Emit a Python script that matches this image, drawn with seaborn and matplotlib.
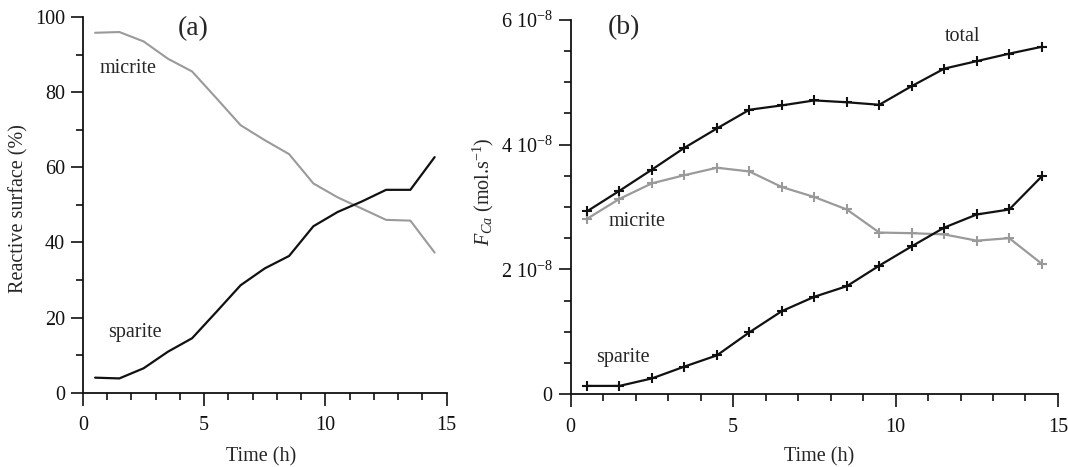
import numpy as np
import pandas as pd
import matplotlib
matplotlib.use("Agg")
import matplotlib.pyplot as plt
import seaborn as sns
from matplotlib.ticker import MultipleLocator, FixedLocator, FixedFormatter

# ---------------- data ----------------
time_h = [0.5, 1.5, 2.5, 3.5, 4.5, 5.5, 6.5, 7.5, 8.5, 9.5, 10.5, 11.5, 12.5, 13.5, 14.5]

# panel (a) reactive surface (%)
surf_micrite = [95.8, 96.0, 93.5, 88.9, 85.5, 78.4, 71.2, 67.2, 63.5, 55.7, 52.0, 49.0, 46.0, 45.8, 37.3]
surf_sparite = [4.0, 3.8, 6.5, 10.9, 14.5, 21.5, 28.6, 33.1, 36.4, 44.3, 48.1, 50.9, 54.0, 54.0, 62.7]

# panel (b) F_Ca (mol.s-1), in units of 1e-8
flux_total = [2.93, 3.26, 3.60, 3.95, 4.26, 4.56, 4.63, 4.71, 4.68, 4.64, 4.94, 5.22, 5.34, 5.46, 5.57]
flux_micrite = [2.81, 3.13, 3.38, 3.51, 3.63, 3.57, 3.32, 3.16, 2.96, 2.59, 2.58, 2.56, 2.46, 2.50, 2.09]
flux_sparite = [0.13, 0.13, 0.25, 0.44, 0.62, 0.99, 1.33, 1.56, 1.73, 2.06, 2.37, 2.67, 2.88, 2.96, 3.49]
flux_scale = 1e-8

a_ticks = [0, 20, 40, 60, 80, 100]
b_ticks = [0, 2e-8, 4e-8, 6e-8]
b_ticklabels = ["0", r"2 10$^{-8}$", r"4 10$^{-8}$", r"6 10$^{-8}$"]
x_ticks = [0, 5, 10, 15]

GRAY = "#9a9a9a"
BLACK = "#111111"

# ---------------- style ----------------
sns.set_theme(style="ticks")
plt.rcParams["font.family"] = ["Liberation Serif", "DejaVu Serif"]
plt.rcParams["mathtext.fontset"] = "custom"
plt.rcParams["mathtext.rm"] = "Liberation Serif"
plt.rcParams["mathtext.it"] = "Liberation Serif:italic"
plt.rcParams["mathtext.bf"] = "Liberation Serif:bold"
plt.rcParams["axes.unicode_minus"] = False

FS = 14.5

fig = plt.figure(figsize=(10.68, 4.67), dpi=100)
axA = fig.add_axes([0.0777, 0.1591, 0.4183 - 0.0777, 0.9636 - 0.1591])
axB = fig.add_axes([0.5344, 0.1563, 0.9906 - 0.5344, 0.9572 - 0.1563])

# ---------------- panel (a) ----------------
dfA = pd.DataFrame({"t": time_h, "micrite": surf_micrite, "sparite": surf_sparite})
sns.lineplot(data=dfA, x="t", y="micrite", ax=axA, color=GRAY, lw=1.5)
sns.lineplot(data=dfA, x="t", y="sparite", ax=axA, color=BLACK, lw=1.6)
axA.set_xlim(0, 15)
axA.set_ylim(0, 100)
axA.yaxis.set_major_locator(FixedLocator(a_ticks))
axA.yaxis.set_minor_locator(MultipleLocator(10))
axA.text(4.54, 97.0, "(a)", fontsize=20, ha="center", va="center")
axA.text(1.86, 86.2, "micrite", fontsize=FS, ha="center", va="center")
axA.text(2.14, 16.1, "sparite", fontsize=FS, ha="center", va="center")
axA.set_ylabel("Reactive surface (%)", fontsize=FS)
axA.yaxis.set_label_coords(-0.151, 0.49)

# ---------------- panel (b) ----------------
dfB = pd.DataFrame({
    "t": time_h,
    "total": np.array(flux_total) * flux_scale,
    "micrite": np.array(flux_micrite) * flux_scale,
    "sparite": np.array(flux_sparite) * flux_scale,
})
mk = dict(marker="+", markersize=6.5, markeredgewidth=1.5)
sns.lineplot(data=dfB, x="t", y="micrite", ax=axB, color=GRAY, lw=1.6, markeredgecolor=GRAY, **mk)
sns.lineplot(data=dfB, x="t", y="total", ax=axB, color=BLACK, lw=1.6, markeredgecolor=BLACK, **mk)
sns.lineplot(data=dfB, x="t", y="sparite", ax=axB, color=BLACK, lw=1.6, markeredgecolor=BLACK, **mk)
axB.set_xlim(0, 15)
axB.set_ylim(0, 6e-8)
axB.yaxis.set_major_locator(FixedLocator(b_ticks))
axB.yaxis.set_major_formatter(FixedFormatter(b_ticklabels))
axB.yaxis.set_minor_locator(MultipleLocator(0.5e-8))
axB.text(1.64, 5.88e-8, "(b)", fontsize=20, ha="center", va="center")
axB.text(12.07, 5.74e-8, "total", fontsize=FS, ha="center", va="center")
axB.text(2.04, 2.76e-8, "micrite", fontsize=FS, ha="center", va="center")
axB.text(1.61, 0.58e-8, "sparite", fontsize=FS, ha="center", va="center")
axB.set_ylabel(r"$F_{Ca}$ (mol.s$^{-1}$)", fontsize=FS)
axB.yaxis.set_label_coords(-0.153, 0.54)

# ---------------- common axes styling ----------------
for ax, xl, yl in ((axA, 0.49, -0.1445), (axB, 0.51, -0.142)):
    ax.xaxis.set_major_locator(FixedLocator(x_ticks))
    ax.xaxis.set_minor_locator(MultipleLocator(1))
    ax.set_xlabel("Time (h)", fontsize=FS)
    ax.xaxis.set_label_coords(xl, yl)
    sns.despine(ax=ax)
    for s in ("left", "bottom"):
        ax.spines[s].set_linewidth(1.3)
        ax.spines[s].set_color(BLACK)
    ax.tick_params(which="major", direction="out", length=9, width=1.2, color=BLACK,
                   labelsize=FS, pad=4, labelcolor=BLACK)
    ax.tick_params(which="minor", direction="out", length=5, width=1.2, color=BLACK)
    ax.tick_params(axis="x", which="major", pad=8)
    ax.grid(False)
    ax.set_facecolor("white")
    if ax.get_legend() is not None:
        ax.get_legend().remove()

fig.savefig("out.png", dpi=100, facecolor="white")
